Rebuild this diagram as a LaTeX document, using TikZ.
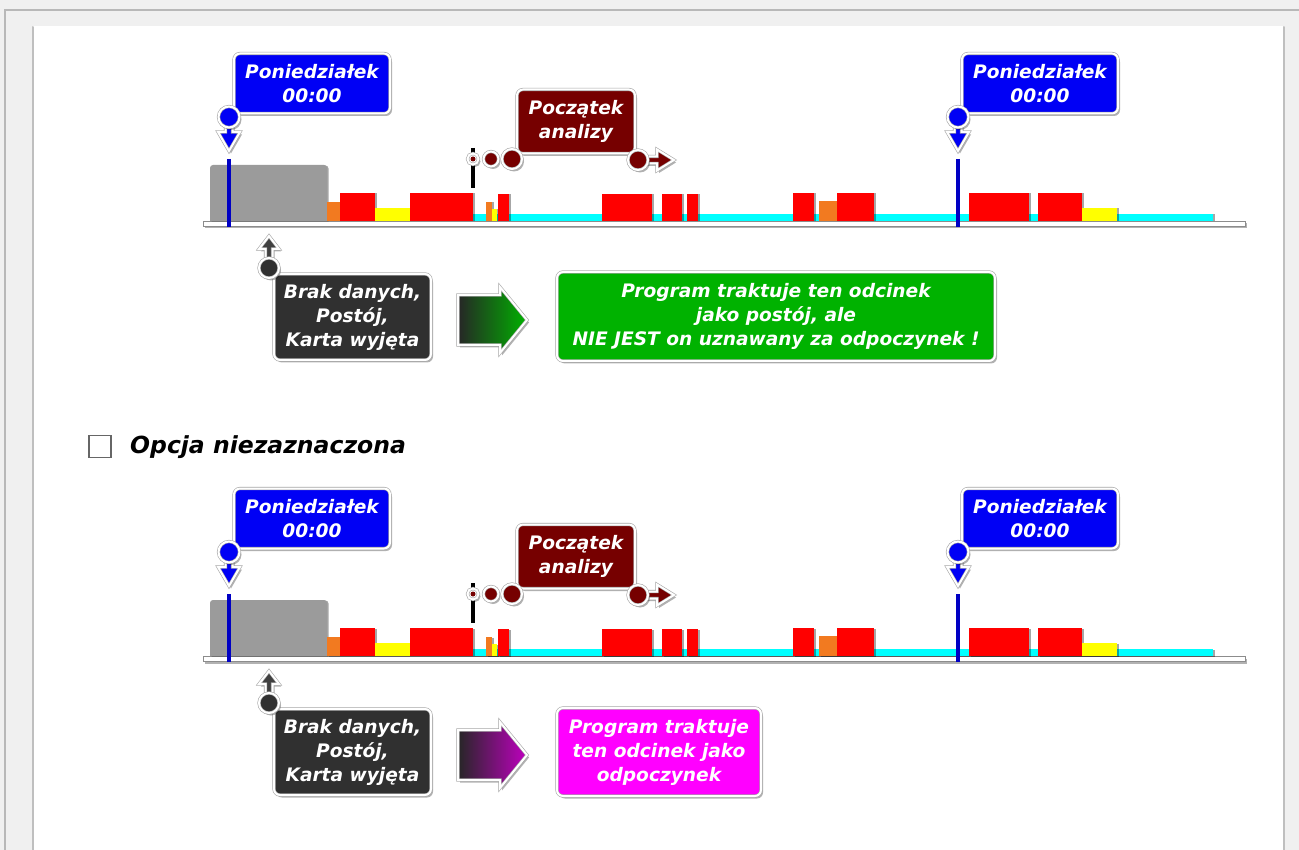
\documentclass[tikz,border=0pt]{standalone}
\usepackage{fontspec}
\setmainfont{DejaVu Sans}
\usetikzlibrary{shadows}
\definecolor{pblue}{RGB}{0,0,245}
\definecolor{pbrown}{RGB}{118,0,0}
\definecolor{pdark}{RGB}{48,48,48}
\definecolor{pgreen}{RGB}{0,178,0}
\definecolor{pmag}{RGB}{255,0,255}
\definecolor{pred}{RGB}{255,0,0}
\definecolor{porange}{RGB}{242,122,32}
\definecolor{pyellow}{RGB}{255,255,0}
\definecolor{pcyan}{RGB}{0,255,255}
\definecolor{pgray}{RGB}{155,155,155}
\newcommand\labfont{\bfseries\itshape\fontsize{18.6}{24}\selectfont}
\tikzset{
  x=1pt, y=-1pt,
  rim/.style={draw=black!35, double=white, double distance=2pt, line width=0.6pt},
  shad/.style={drop shadow={shadow xshift=2pt, shadow yshift=-2.5pt, opacity=0.3, fill=black}},
  lab/.style={rim, shad, rounded corners=6pt, text=white, font=\labfont, align=center, inner sep=0pt},
  pinc/.style={circle, inner sep=0pt, rim, shad},
  glyph/.style={rim, shad},
  blk/.style={drop shadow={shadow xshift=1.5pt, shadow yshift=-0.5pt, opacity=0.35, fill=black}},
  mline/.style={line width=3.2pt},
}
\newcommand\tline[1]{%
  % baseline and cyan
  \path[draw=black!45, fill=white, line width=0.6pt, shad] (203,221) rectangle (1245,226);
  \path[fill=pcyan, blk] (473,214) rectangle (1213,221);
  % blocks
  \path[fill=pgray, blk, rounded corners=3pt] (210,221) -- (210,165) -- (327,165) [sharp corners] -- (327,221) -- cycle;
  \foreach \a/\b/\t/\c in {327/340/202/porange, 340/375/193/pred, 375/410/208/pyellow, 410/473/193/pred,
      486/492/202/porange, 492/497/209/pyellow, 498/509/194/pred, 602/652/194/pred, 662/682/194/pred,
      687/698/194/pred, 793/814/193/pred, 819/837/201/porange, 837/874/193/pred, 969/1029/193/pred,
      1038/1082/193/pred, 1082/1117/208/pyellow}
    {\path[fill=\c, blk] (\a,221) rectangle (\b,\t);}
  % Monday markers
  \draw[pblue!80!black, mline] (229,159) -- (229,227);
  \draw[pblue!80!black, mline] (958,159) -- (958,227);
  \path[glyph, fill=pblue] (225.5,124) -- (232.5,124) -- (232.5,132) -- (240,132) -- (229,151) -- (218,132) -- (225.5,132) -- cycle;
  \path[glyph, fill=pblue] (954.5,124) -- (961.5,124) -- (961.5,132) -- (969,132) -- (958,151) -- (947,132) -- (954.5,132) -- cycle;
  \node[lab, fill=pblue, minimum width=156pt, minimum height=60pt] (monA#1) at (312,83.5) {Poniedziałek\\00:00};
  \node[lab, fill=pblue, minimum width=156pt, minimum height=60pt] (monB#1) at (1040,83.5) {Poniedziałek\\00:00};
  \node[pinc, fill=pblue, minimum size=21pt] (pinA#1) at (229,117) {};
  \node[pinc, fill=pblue, minimum size=21pt] (pinB#1) at (958,117) {};
  % analysis start
  \draw[black, mline] (473,148) -- (473,188);
  \node[pinc, fill=white, minimum size=11pt] (ring#1) at (473,159) {};
  \fill[pbrown] (ring#1) circle (2.5pt);
  \node[pinc, fill=pbrown, minimum size=15pt] (dotA#1) at (491,159) {};
  \node[lab, fill=pbrown, minimum width=118pt, minimum height=64pt] (start#1) at (576,121.5) {Początek\\analizy};
  \node[pinc, fill=pbrown, minimum size=20pt] (dotB#1) at (512,159) {};
  \path[glyph, fill=pbrown] (646,156.5) -- (657,156.5) -- (657,149.5) -- (674,160) -- (657,170.5) -- (657,163.5) -- (646,163.5) -- cycle;
  \node[pinc, fill=pbrown, minimum size=20pt] (dotC#1) at (638,160) {};
  % no data marker
  \path[glyph, fill=black!75] (265.5,262) -- (265.5,249) -- (259,249) -- (269,236) -- (279,249) -- (272.5,249) -- (272.5,262) -- cycle;
  \node[lab, fill=pdark, minimum width=157pt, minimum height=86pt] (nodata#1) at (352.5,317) {Brak danych,\\Postój,\\Karta wyjęta};
  \node[pinc, fill=pdark, minimum size=20pt] (pinD#1) at (269,268) {};
}
\begin{document}
\begin{tikzpicture}
\useasboundingbox (0,0) rectangle (1299,850);
% frame
\fill[black!6] (0,0) rectangle (1299,850);
\draw[black!28, line width=2.5pt] (5,850) -- (5,10) -- (1299,10);
\fill[white] (33,26) rectangle (1284,850);
\draw[black!25, line width=2pt, line cap=round] (33,850) -- (33,27);
\draw[black!25, line width=2pt, line cap=round] (1284,850) -- (1284,27);
% section 1
\tline{1}
\shadedraw[rim, shad, left color=black!85, right color=pgreen]
  (458,295) -- (500,295) -- (500,287) -- (527,320) -- (500,353) -- (500,345) -- (458,345) -- cycle;
\node[lab, fill=pgreen, minimum width=438pt, minimum height=89pt] (res1) at (776,316.5)
  {Program traktuje ten odcinek\\jako postój, ale\\NIE JEST on uznawany za odpoczynek !};
% option
\node[draw=black!60, line width=1.3pt, fill=white, minimum size=22pt, inner sep=0pt] (chk) at (100,446.5) {};
\node[anchor=west, inner sep=0pt, font=\bfseries\itshape\fontsize{23.5}{28}\selectfont] (opt) at (130,447) {Opcja niezaznaczona};
% section 2
\begin{scope}[yshift=-435pt]
\tline{2}
\shadedraw[rim, shad, left color=black!85, right color=pmag!75!black]
  (458,295) -- (500,295) -- (500,287) -- (527,320) -- (500,353) -- (500,345) -- (458,345) -- cycle;
\node[lab, fill=pmag, minimum width=204pt, minimum height=88pt] (res2) at (659,317)
  {Program traktuje\\ten odcinek jako\\odpoczynek};
\end{scope}
\end{tikzpicture}
\end{document}
